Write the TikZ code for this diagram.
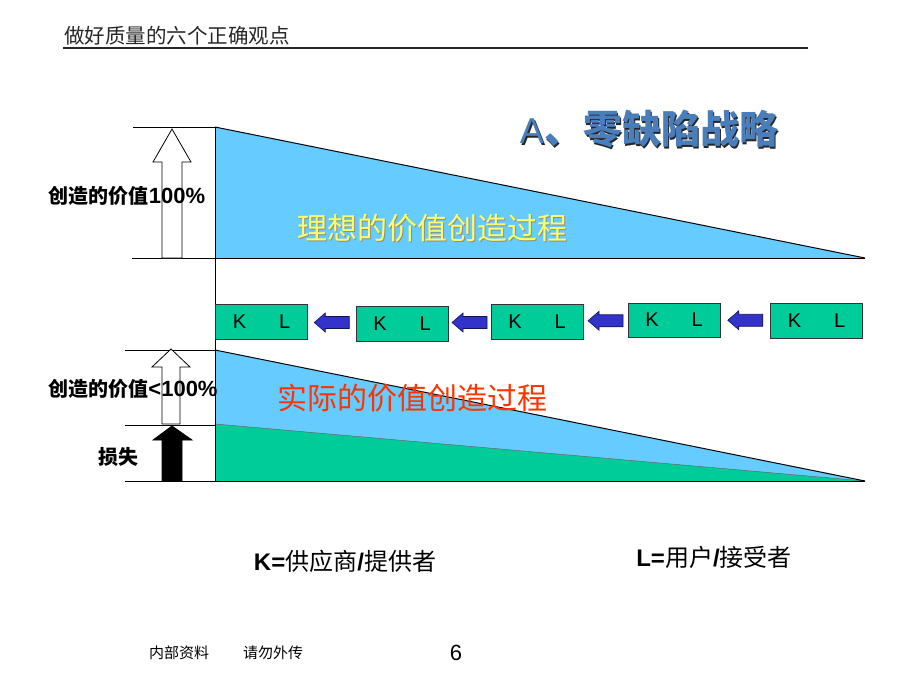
\documentclass[tikz,border=0pt]{standalone}
\usepackage{fontspec}
\setmainfont{Liberation Sans}
\newfontfamily\cjk{Noto Sans CJK SC}
\usetikzlibrary{calc}
\definecolor{skyfill}{HTML}{66CCFF}
\definecolor{mint}{HTML}{00CC99}
\definecolor{arrblue}{HTML}{3333CC}
\definecolor{titleblue}{HTML}{4A7EBB}
\definecolor{idealyellow}{HTML}{FFFF66}
\definecolor{realred}{HTML}{FF3300}
\newcommand{\shadowtext}[4]{% #1 shadow colour, #2 offset, #3 colour, #4 text
  \rlap{\hspace{#2}\raisebox{-#2}{\textcolor{#1}{#4}}}\textcolor{#3}{#4}}
\begin{document}
\begin{tikzpicture}[x=1pt,y=-1pt,
  txt/.style={inner sep=0pt, outer sep=0pt},
  klbox/.style={draw=black!80, fill=mint, line width=0.8pt, minimum width=92pt,
    minimum height=35pt, inner sep=0pt, font=\fontsize{20}{22}\selectfont},
  arrowblock/.style={fill=arrblue, draw=black!60!arrblue, line width=0.6pt},
  hollow/.style={fill=white, draw=black, line width=0.8pt},
  solidarrow/.style={fill=black, draw=black, line width=0.8pt},
  rule/.style={draw=black, line width=1pt}]
\useasboundingbox (0,0) rectangle (900,675);

% header
\node[txt, anchor=west, text=black!85] (hdr) at (64,36) {\cjk\fontsize{20.5}{24}\selectfont 做好质量的六个正确观点};
\draw[line width=1.2pt, black!85] (63,48) -- (808,48);

% title with shadow
\node[txt] (title) at (649,130) {\shadowtext{black!85}{1.5pt}{titleblue}{{\fontsize{36}{40}\selectfont A}{\cjk\bfseries\fontsize{39}{42}\selectfont 、零缺陷战略}}};

% ideal triangle
\fill[skyfill] (215,127) -- (865,258) -- (215,258) -- cycle;
\draw[rule] (215,127) -- (865,258);
\draw[rule] (133,127) -- (215,127);
\draw[rule] (132,258) -- (865,258);

% actual value region
\fill[skyfill] (215,350) -- (865,481) -- (215,481) -- cycle;
\fill[mint] (215,424) -- (865,481) -- (215,481) -- cycle;
\draw[black!60, line width=0.5pt] (215,424) -- (865,481);
\draw[rule] (215,350) -- (865,481);
\draw[rule] (125,350) -- (215,350);
\draw[rule] (125,425) -- (215,425);
\draw[rule] (125,481) -- (865,481);

% vertical axis
\draw[rule] (215,127) -- (215,481);

% up arrows
\draw[hollow] (172,129) -- (191,162) -- (182,162) -- (182,258) -- (162,258) -- (162,162) -- (153,162) -- cycle;
\draw[hollow] (171,349) -- (190,367) -- (180,367) -- (180,424) -- (162,424) -- (162,367) -- (152,367) -- cycle;
\draw[solidarrow] (172,426) -- (192,440) -- (182,440) -- (182,481) -- (162,481) -- (162,440) -- (153,440) -- cycle;

% left labels
\node[txt] (lab100) at (127,196) {{\cjk\bfseries\fontsize{20}{24}\selectfont 创造的价值}{\bfseries\fontsize{22}{24}\selectfont 100\%}};
\node[txt] (lablt) at (133,389) {{\cjk\bfseries\fontsize{20}{24}\selectfont 创造的价值}{\bfseries\fontsize{22}{24}\selectfont <100\%}};
\node[txt] (labloss) at (118,457) {\cjk\bfseries\fontsize{20}{24}\selectfont 损失};

% big texts
\node[txt] (ideal) at (432.5,228.5) {\shadowtext{black!45}{1pt}{idealyellow}{\cjk\fontsize{30}{34}\selectfont 理想的价值创造过程}};
\node[txt, text=realred] (real) at (412,398) {\cjk\fontsize{30}{34}\selectfont 实际的价值创造过程};

% K L chain
\node[klbox] (b1) at (261.5,321.5) {K\hspace{33pt}L};
\node[klbox] (b2) at (402,323.5) {K\hspace{33pt}L};
\node[klbox] (b3) at (537,321.5) {K\hspace{33pt}L};
\node[klbox, minimum height=34pt] (b4) at (674,320) {K\hspace{33pt}L};
\node[klbox] (b5) at (816.5,320.5) {K\hspace{33pt}L};

\coordinate (a1) at ($(b1.east)!0.5!(b2.west)$);
\coordinate (a2) at ($(b2.east)!0.5!(b3.west)$);
\coordinate (a3) at ($(b3.east)!0.5!(b4.west)$);
\coordinate (a4) at ($(b4.east)!0.5!(b5.west)$);
\foreach \a in {a1,a2,a3,a4}{
  \draw[arrowblock, shift={(\a)}] (-17.5,0) -- (-6.5,-9.5) -- (-6.5,-6) -- (17.5,-6) -- (17.5,6) -- (-6.5,6) -- (-6.5,9.5) -- cycle;
}

% legend
\node[txt] (kdef) at (345,561) {{\bfseries\fontsize{24}{28}\selectfont K=}{\cjk\fontsize{24}{28}\selectfont 供应商}{\bfseries\fontsize{24}{28}\selectfont /}{\cjk\fontsize{24}{28}\selectfont 提供者}};
\node[txt] (ldef) at (714,557) {{\bfseries\fontsize{24}{28}\selectfont L=}{\cjk\fontsize{24}{28}\selectfont 用户}{\bfseries\fontsize{24}{28}\selectfont /}{\cjk\fontsize{24}{28}\selectfont 接受者}};

% footer
\node[txt] (f1) at (179,653) {\cjk\fontsize{15}{18}\selectfont 内部资料};
\node[txt] (f2) at (273,653) {\cjk\fontsize{15}{18}\selectfont 请勿外传};
\node[txt] (pg) at (456,653) {\fontsize{22}{26}\selectfont 6};
\end{tikzpicture}
\end{document}
